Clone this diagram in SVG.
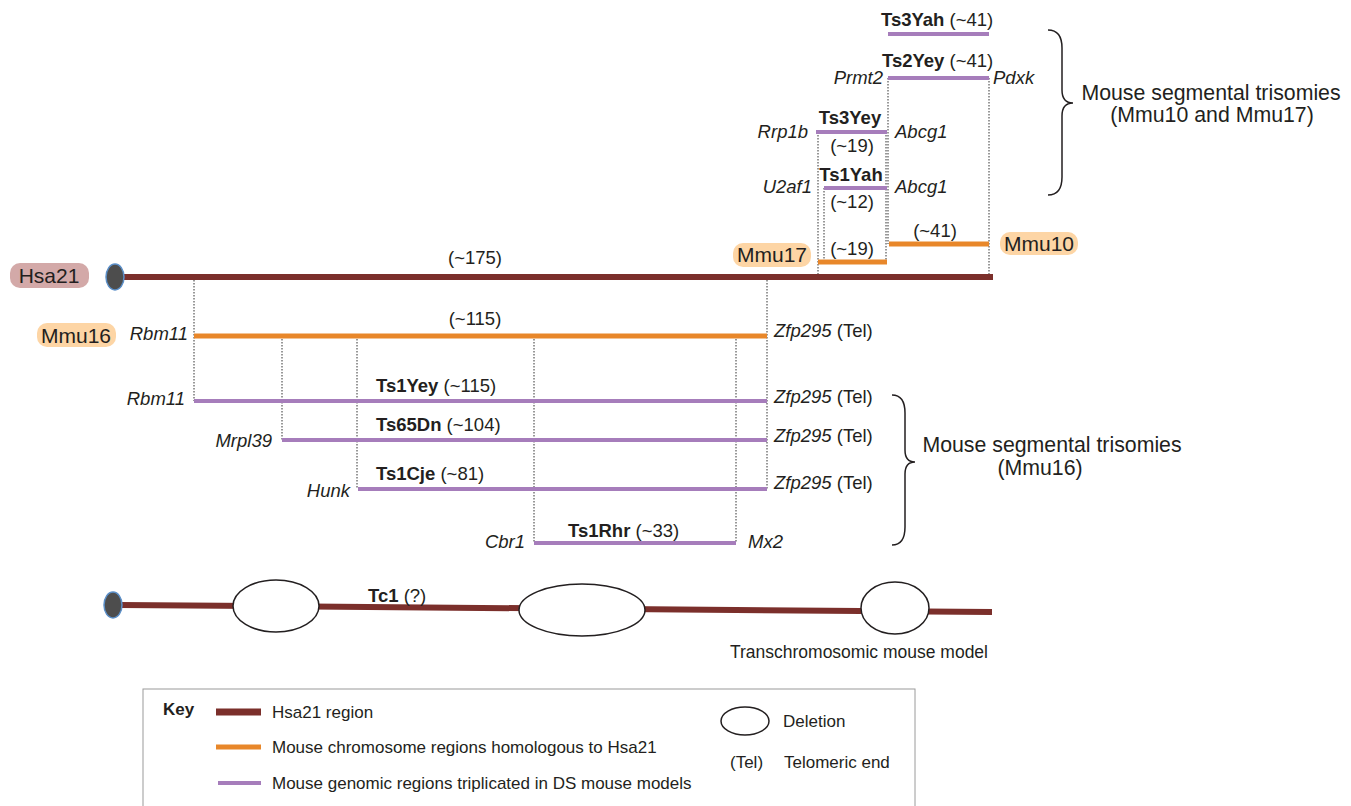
<svg xmlns="http://www.w3.org/2000/svg" width="1351" height="806" viewBox="0 0 1351 806">
<style>
text{font-family:"Liberation Sans",Arial,sans-serif;fill:#231f20}
.t{font-size:18.5px}
.b{font-weight:bold}
.i{font-style:italic}
.lab{font-size:21px}
.br{font-size:21.3px}
.k{font-size:17px}
.hsa{stroke:#7b2f2b;stroke-width:6;fill:none}
.org{stroke:#e8872a;stroke-width:5;fill:none}
.pur{stroke:#a67dbb;stroke-width:4;fill:none}
.dot{stroke:#333;stroke-width:1;stroke-dasharray:1.5 1.5;fill:none}
.del{fill:#fff;stroke:#231f20;stroke-width:1.5}
.cen{fill:#4d4d4d;stroke:#5b8fc8;stroke-width:1.5}
.brace{fill:none;stroke:#231f20;stroke-width:1.5}
</style>
<g id="connectors">
<line class="dot" x1="194" y1="277" x2="194" y2="401"/>
<line class="dot" x1="282" y1="336" x2="282" y2="440"/>
<line class="dot" x1="357" y1="336" x2="357" y2="489"/>
<line class="dot" x1="534" y1="336" x2="534" y2="543"/>
<line class="dot" x1="736" y1="336" x2="736" y2="543"/>
<line class="dot" x1="767" y1="277" x2="767" y2="489"/>
<line class="dot" x1="818" y1="132" x2="818" y2="277"/>
<line class="dot" x1="824" y1="188" x2="824" y2="262"/>
<line class="dot" x1="886" y1="132" x2="886" y2="262"/>
<line class="dot" x1="888" y1="78" x2="888" y2="244"/>
<line class="dot" x1="989" y1="78" x2="989" y2="277"/>
</g>
<g id="hsa21">
<rect x="10" y="263" width="79" height="25" rx="10" fill="#d3a9a8"/>
<text class="lab" x="49" y="283" text-anchor="middle">Hsa21</text>
<line class="hsa" x1="120" y1="277" x2="993" y2="277"/>
<ellipse class="cen" cx="115" cy="277" rx="9" ry="13"/>
<text class="t" x="475" y="264" text-anchor="middle">(~175)</text>
</g>
<g id="mmu16">
<rect x="37" y="323" width="79" height="24" rx="10" fill="#fdd5a5"/>
<text class="lab" x="76" y="343" text-anchor="middle">Mmu16</text>
<text class="t i" x="188" y="340" text-anchor="end">Rbm11</text>
<line class="org" x1="194" y1="336" x2="767" y2="336"/>
<text class="t" x="475" y="325" text-anchor="middle">(~115)</text>
<text class="t" x="774" y="337"><tspan class="i">Zfp295</tspan> (Tel)</text>
</g>
<g id="ts1yey">
<text class="t i" x="185" y="405" text-anchor="end">Rbm11</text>
<line class="pur" x1="194" y1="401" x2="767" y2="401"/>
<text class="t" x="376" y="392"><tspan class="b">Ts1Yey</tspan> (~115)</text>
<text class="t" x="774" y="403"><tspan class="i">Zfp295</tspan> (Tel)</text>
</g>
<g id="ts65dn">
<text class="t i" x="272" y="447" text-anchor="end">Mrpl39</text>
<line class="pur" x1="282" y1="440" x2="767" y2="440"/>
<text class="t" x="376" y="431"><tspan class="b">Ts65Dn</tspan> (~104)</text>
<text class="t" x="774" y="442"><tspan class="i">Zfp295</tspan> (Tel)</text>
</g>
<g id="ts1cje">
<text class="t i" x="350" y="497" text-anchor="end">Hunk</text>
<line class="pur" x1="358" y1="489" x2="767" y2="489"/>
<text class="t" x="376" y="480"><tspan class="b">Ts1Cje</tspan> (~81)</text>
<text class="t" x="774" y="489"><tspan class="i">Zfp295</tspan> (Tel)</text>
</g>
<g id="ts1rhr">
<text class="t i" x="525" y="548" text-anchor="end">Cbr1</text>
<line class="pur" x1="534" y1="543" x2="736" y2="543"/>
<text class="t" x="568" y="537"><tspan class="b">Ts1Rhr</tspan> (~33)</text>
<text class="t i" x="748" y="548">Mx2</text>
</g>
<g id="brace16">
<path class="brace" d="M892,395 C901,395 905,401 905,413 L905,450 C905,458 909,462 915,462 C909,462 905,466 905,474 L905,527 C905,539 901,545 892,545"/>
<text class="br" x="1052" y="452" text-anchor="middle">Mouse segmental trisomies</text>
<text class="br" x="1040" y="475" text-anchor="middle">(Mmu16)</text>
</g>
<g id="mmu17">
<rect x="733" y="243" width="78" height="24" rx="10" fill="#fdd5a5"/>
<text class="lab" x="772" y="262" text-anchor="middle">Mmu17</text>
<line class="org" x1="818" y1="262" x2="887" y2="262"/>
<text class="t" x="852" y="255" text-anchor="middle">(~19)</text>
</g>
<g id="mmu10">
<line class="org" x1="889" y1="244" x2="989" y2="244"/>
<text class="t" x="935" y="237" text-anchor="middle">(~41)</text>
<rect x="1000" y="232" width="78" height="23" rx="10" fill="#fdd5a5"/>
<text class="lab" x="1039" y="251" text-anchor="middle">Mmu10</text>
</g>
<g id="ts1yah">
<text class="t i" x="812" y="193" text-anchor="end">U2af1</text>
<line class="pur" x1="824" y1="188" x2="887" y2="188"/>
<text class="t b" x="851" y="181" text-anchor="middle">Ts1Yah</text>
<text class="t" x="852" y="208" text-anchor="middle">(~12)</text>
<text class="t i" x="895" y="193">Abcg1</text>
</g>
<g id="ts3yey">
<text class="t i" x="808" y="138" text-anchor="end">Rrp1b</text>
<line class="pur" x1="816" y1="132" x2="887" y2="132"/>
<text class="t b" x="850" y="124" text-anchor="middle">Ts3Yey</text>
<text class="t" x="852" y="152" text-anchor="middle">(~19)</text>
<text class="t i" x="895" y="138">Abcg1</text>
</g>
<g id="ts2yey">
<text class="t i" x="883" y="84" text-anchor="end">Prmt2</text>
<line class="pur" x1="888" y1="78" x2="989" y2="78"/>
<text class="t" x="882" y="67"><tspan class="b">Ts2Yey</tspan> (~41)</text>
<text class="t i" x="993" y="84">Pdxk</text>
</g>
<g id="ts3yah">
<line class="pur" x1="888" y1="34" x2="989" y2="34"/>
<text class="t" x="881" y="26"><tspan class="b">Ts3Yah</tspan> (~41)</text>
</g>
<g id="brace1017">
<path class="brace" d="M1048,30 C1058,30 1062,36 1062,48 L1062,90 C1062,99 1066,103 1073,103 C1066,103 1062,107 1062,116 L1062,177 C1062,189 1058,195 1048,195"/>
<text class="br" x="1211" y="100" text-anchor="middle">Mouse segmental trisomies</text>
<text class="br" x="1212" y="122" text-anchor="middle">(Mmu10 and Mmu17)</text>
</g>
<g id="tc1">
<line class="hsa" x1="120" y1="605" x2="992" y2="612"/>
<ellipse class="cen" cx="113" cy="605" rx="9" ry="13"/>
<ellipse class="del" cx="276" cy="606" rx="43" ry="26"/>
<ellipse class="del" cx="582" cy="610" rx="63" ry="26"/>
<ellipse class="del" cx="895" cy="608" rx="34" ry="26"/>
<text class="t" x="368" y="602"><tspan class="b">Tc1</tspan> (?)</text>
<text class="k" style="font-size:17.5px" x="988" y="658" text-anchor="end">Transchromosomic mouse model</text>
</g>
<g id="key">
<rect x="143" y="689" width="772" height="130" fill="#fff" stroke="#9a9a9a" stroke-width="1"/>
<text class="k b" x="163" y="715">Key</text>
<line class="hsa" x1="216" y1="712" x2="261" y2="712" style="stroke-width:7"/>
<text class="k" x="272" y="718">Hsa21 region</text>
<line class="org" x1="216" y1="747" x2="261" y2="747"/>
<text class="k" x="272" y="753">Mouse chromosome regions homologous to Hsa21</text>
<line class="pur" x1="218" y1="783" x2="261" y2="783"/>
<text class="k" x="272" y="789">Mouse genomic regions triplicated in DS mouse models</text>
<ellipse class="del" cx="745" cy="721" rx="24" ry="14"/>
<text class="k" x="783" y="727">Deletion</text>
<text class="k" x="730" y="768">(Tel)</text>
<text class="k" x="784" y="768">Telomeric end</text>
</g>
</svg>
